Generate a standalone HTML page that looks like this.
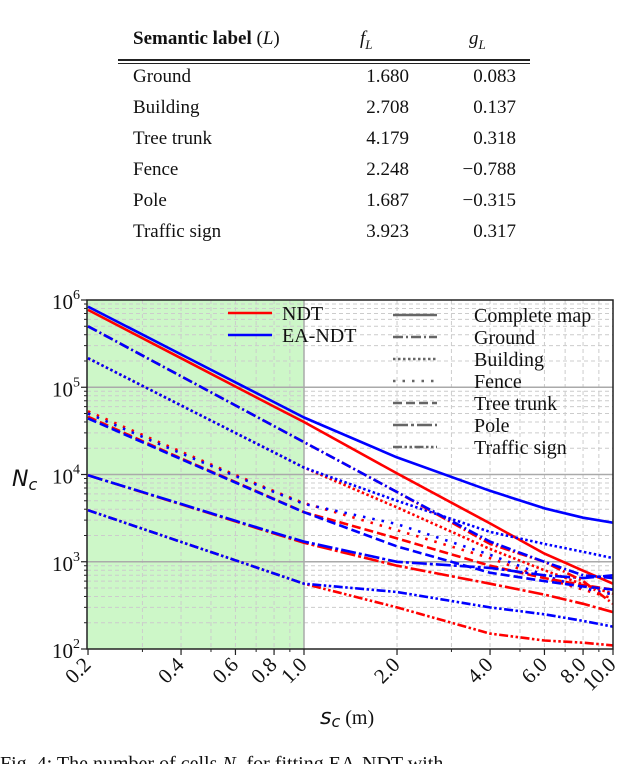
<!DOCTYPE html>
<html><head><meta charset="utf-8">
<style>
body{margin:0;width:640px;height:764px;overflow:hidden;background:#fff;font-family:"Liberation Serif",serif;}
#wrap{position:relative;width:640px;height:764px;overflow:hidden;}
.t{position:absolute;font-size:19px;color:#111;white-space:nowrap;}
</style></head><body>
<div id="wrap">
<div>
<div class="t" style="left:133px;top:28px;font-weight:bold">Semantic label <span style="font-weight:normal">(<i>L</i>)</span></div>
<div class="t" style="left:360px;top:28px"><i>f<sub style="font-size:13px">L</sub></i></div>
<div class="t" style="left:469px;top:28px"><i>g<sub style="font-size:13px">L</sub></i></div>
<div style="position:absolute;left:118px;top:59px;width:412px;height:1.5px;background:#222"></div>
<div style="position:absolute;left:118px;top:62.5px;width:412px;height:1.5px;background:#222"></div>
</div>
<svg id="chart" width="640" height="764" style="position:absolute;left:0;top:0"></svg>
<div class="t" style="left:0px;top:753px;font-size:20px">Fig. 4: The number of cells <i>N<sub style="font-size:13px">c</sub></i> for fitting EA-NDT with</div>
</div>
<script>
// table data
const rowLabels=["Ground","Building","Tree trunk","Fence","Pole","Traffic sign"];
const fVals=["1.680","2.708","4.179","2.248","1.687","3.923"];
const gVals=["0.083","0.137","0.318","\u22120.788","\u22120.315","0.317"];
const wrap=document.getElementById('wrap');
rowLabels.forEach((l,i)=>{
  const y=66+i*31;
  const a=document.createElement('div');a.className='t';a.style.left='133px';a.style.top=y+'px';a.textContent=l;
  
  
  wrap.appendChild(a);
  const b=document.createElement('div');b.className='t';b.style.right=(640-409)+'px';b.style.top=y+'px';b.textContent=fVals[i];
  
  
  wrap.appendChild(b);
  const c=document.createElement('div');c.className='t';c.style.right=(640-516)+'px';c.style.top=y+'px';c.textContent=gVals[i];
  
  
  wrap.appendChild(c);
});

// chart data
const xs=[0.2,0.4,0.6,0.8,1,2,4,6,8,10];
const ndtComplete=[770000,215000,102000,60000,40000,10300,2750,1240,790,560];
const eaComplete=[840000,238000,114000,67600,45000,15700,6500,4100,3200,2800];
const ndtGround=[500000,134000,62000,35900,23500,6300,1600,1000,600,330];
const eaGround=[500000,134000,62000,35900,23500,6300,1700,1000,700,650];
const ndtBuilding=[215000,62000,30000,17900,12000,4200,1400,800,550,430];
const eaBuilding=[215000,62000,30000,17900,12000,5000,2200,1600,1300,1100];
const ndtFence=[53000,18300,9900,6440,4700,2300,1100,650,480,380];
const eaFence=[50000,17500,9600,6300,4600,2700,1200,700,500,420];
const ndtTrunk=[46000,15300,8200,5240,3700,1850,900,650,540,480];
const eaTrunk=[44000,15000,8100,5200,3700,1500,750,600,520,480];
const ndtPole=[9800,4550,2900,2110,1650,900,560,420,330,265];
const eaPole=[9800,4600,2950,2150,1700,1000,850,700,650,700];
const ndtSign=[3900,1690,1040,733,560,300,150,125,118,110];
const eaSign=[3900,1690,1040,733,560,450,300,250,210,180];
const yTicks=[2,3,4,5,6];
const xTickLabels=["0.2","0.4","0.6","0.8","1.0","2.0","4.0","6.0","8.0","10.0"];
const xTickVals=[0.2,0.4,0.6,0.8,1,2,4,6,8,10];

const L=87,R=613,T=300,B=649;
const X=v=>304+Math.log10(v)*309;
const Y=v=>T+(6-Math.log10(v))*87.25;
const ns='http://www.w3.org/2000/svg';
const svg=document.getElementById('chart');
function mk(tag,attrs,parent){const e=document.createElementNS(ns,tag);for(const k in attrs)e.setAttribute(k,attrs[k]);(parent||svg).appendChild(e);return e;}

const bg=mk('rect',{x:L,y:T,width:X(1)-L,height:B-T,fill:'#cdf7c8'});



// grid
const minorX=[0.3,0.4,0.5,0.6,0.7,0.8,0.9,2,3,4,5,6,7,8,9];
minorX.forEach(v=>{const g=mk('line',{x1:X(v),x2:X(v),y1:T,y2:B,stroke:'#ccc','stroke-width':1,'stroke-dasharray':'4,3'});

});
for(let d=2;d<6;d++)for(let m=2;m<10;m++){const g=mk('line',{x1:L,x2:R,y1:Y(m*Math.pow(10,d)),y2:Y(m*Math.pow(10,d)),stroke:'#ccc','stroke-width':1,'stroke-dasharray':'4,3'});

}
[1].forEach(v=>{const g=mk('line',{x1:X(v),x2:X(v),y1:T,y2:B,stroke:'#aaa','stroke-width':1.5});

});
[3,4,5].forEach(d=>{const g=mk('line',{x1:L,x2:R,y1:Y(Math.pow(10,d)),y2:Y(Math.pow(10,d)),stroke:'#aaa','stroke-width':1.5});

});

// series
const dashes={solid:'',ground:'10,3,2,3',building:'2.5,2.5',fence:'2.5,7',trunk:'9,4',pole:'15,3,3,3',sign:'9,2.5,2.5,2.5,2.5,2.5'};
const series=[
 ['ndt-complete',ndtComplete,'red','solid'],['ea-complete',eaComplete,'blue','solid'],
 ['ndt-building',ndtBuilding,'red','building'],['ea-building',eaBuilding,'blue','building'],
 ['ndt-fence',ndtFence,'red','fence'],['ea-fence',eaFence,'blue','fence'],
 ['ndt-trunk',ndtTrunk,'red','trunk'],['ea-trunk',eaTrunk,'blue','trunk'],
 ['ndt-pole',ndtPole,'red','pole'],['ea-pole',eaPole,'blue','pole'],
 ['ndt-sign',ndtSign,'red','sign'],['ea-sign',eaSign,'blue','sign'],
 ['ndt-ground',ndtGround,'red','ground'],['ea-ground',eaGround,'blue','ground']];
const clip=mk('clipPath',{id:'pc'});mk('rect',{x:L,y:T,width:R-L,height:B-T},clip);
series.forEach(s=>{
  const d=s[1].map((v,i)=>(i?'L':'M')+X(xs[i]).toFixed(1)+','+Y(v).toFixed(1)).join(' ');
  const p=mk('path',{d:d,fill:'none',stroke:s[2],'stroke-width':2.6,'stroke-dasharray':dashes[s[3]],'stroke-linejoin':'round','clip-path':'url(#pc)'});
  
  
});

// axes frame
const fr=mk('rect',{x:L,y:T,width:R-L,height:B-T,fill:'none',stroke:'#222','stroke-width':1.5});



// y ticks
yTicks.forEach(d=>{
  const y=Y(Math.pow(10,d));
  mk('line',{x1:L-6,x2:L,y1:y,y2:y,stroke:'#222','stroke-width':1.2});
  const t=mk('text',{x:80,y:y+9,'text-anchor':'end','font-size':21,'font-family':'Liberation Serif, serif',fill:'#111'});
  
  
  t.textContent='10';
  const s=mk('tspan',{dy:-10,'font-size':14},t);s.textContent=d;
  if(d<6)for(let m=2;m<10;m++){const yy=Y(m*Math.pow(10,d));mk('line',{x1:L-3,x2:L,y1:yy,y2:yy,stroke:'#222','stroke-width':1});}
});
// x ticks
minorX.forEach(v=>mk('line',{x1:X(v),x2:X(v),y1:B,y2:B+3,stroke:'#222','stroke-width':1}));
xTickVals.forEach((v,i)=>{
  const x=X(v);
  mk('line',{x1:x,x2:x,y1:B,y2:B+6,stroke:'#222','stroke-width':1.2});
  const t=mk('text',{x:x+4,y:B+17,'text-anchor':'end','font-size':21,'font-family':'Liberation Serif, serif',fill:'#111',transform:`rotate(-45 ${x+4} ${B+17})`});
  
  
  t.textContent=xTickLabels[i];
});
const yl=mk('text',{x:12,y:486,'font-size':22,'font-family':'DejaVu Sans, sans-serif','font-style':'italic',fill:'#111'});


yl.textContent='N';const ys=mk('tspan',{dy:4,'font-size':16},yl);ys.textContent='c';
const xl=mk('text',{x:320,y:724,'font-size':22,'font-family':'DejaVu Sans, sans-serif','font-style':'italic',fill:'#111'});


xl.textContent='s';const xs2=mk('tspan',{dy:3,'font-size':16},xl);xs2.textContent='c';
const xs3=mk('tspan',{dy:-3,'font-style':'normal','font-family':'Liberation Serif, serif','font-size':20},xl);xs3.textContent=' (m)';

// legend
const leg1=[['NDT','red'],['EA-NDT','blue']];
leg1.forEach((e,i)=>{
  const y=313+i*22;
  const l=mk('line',{x1:228,x2:272,y1:y,y2:y,stroke:e[1],'stroke-width':2.6});
  
  
  const t=mk('text',{x:282,y:y+7,'font-size':20,'font-family':'Liberation Serif, serif',fill:'#111'});
  
  
  t.textContent=e[0];
});
const leg2=[['Complete map','solid'],['Ground','ground'],['Building','building'],['Fence','fence'],['Tree trunk','trunk'],['Pole','pole'],['Traffic sign','sign']];
leg2.forEach((e,i)=>{
  const y=315+i*22;
  const l=mk('line',{x1:393,x2:437,y1:y,y2:y,stroke:'#666','stroke-width':2.6,'stroke-dasharray':dashes[e[1]]});
  
  
  const t=mk('text',{x:474,y:y+7,'font-size':20,'font-family':'Liberation Serif, serif',fill:'#111'});
  
  
  t.textContent=e[0];
});
</script>
</body></html>
